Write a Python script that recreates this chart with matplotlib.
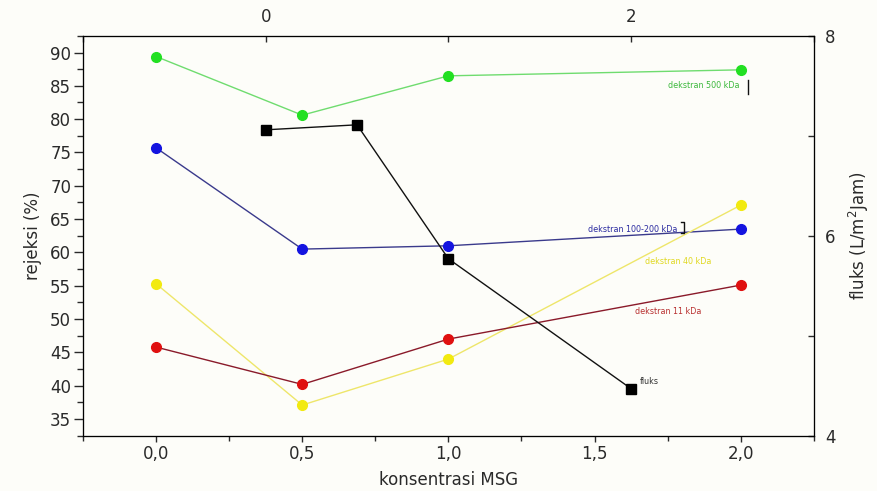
import matplotlib
matplotlib.use("Agg")
import matplotlib.pyplot as plt
from matplotlib.ticker import MultipleLocator, FixedLocator, FuncFormatter

plt.rcParams['font.family'] = ['DejaVu Sans']

msg = [0.0, 0.5, 1.0, 2.0]
rej_500 = [89.4, 80.6, 86.5, 87.4]
rej_100_200 = [75.7, 60.5, 61.0, 63.5]
rej_40 = [55.3, 37.1, 44.0, 67.1]
rej_11 = [45.8, 40.2, 47.0, 55.1]
flux_x = [0.0, 0.5, 1.0, 2.0]
fluks = [7.06, 7.11, 5.77, 4.47]

fig = plt.figure(figsize=(8.77, 4.91), dpi=100)
bg = '#fdfdf9'
fig.patch.set_facecolor(bg)
pos = [0.0946, 0.1126, 0.928 - 0.0946, 0.927 - 0.1126]
ax = fig.add_axes(pos)
ax.set_facecolor(bg)
tc = '#2a2a2a'
fsz = 12

series = [
    (rej_500, '#6fdc6f', '#22e022'),
    (rej_100_200, '#3a3a8c', '#1414e0'),
    (rej_40, '#eee66a', '#f2ea10'),
    (rej_11, '#8a1a2a', '#e01010'),
]
for vals, lc, mc in series:
    ax.plot(msg, vals, '-', color=lc, lw=1.0, zorder=2)
    ax.plot(msg, vals, 'o', color=mc, ms=7, mec=mc, zorder=3)

ax.set_xlim(-0.25, 2.25)
ax.set_ylim(32.5, 92.5)
ax.xaxis.set_major_locator(FixedLocator([0.0, 0.5, 1.0, 1.5, 2.0]))
ax.xaxis.set_minor_locator(FixedLocator([-0.25, 0.25, 0.75, 1.25, 1.75, 2.25]))
ax.xaxis.set_major_formatter(FuncFormatter(lambda v, p: f"{v:.1f}".replace('.', ',')))
ax.yaxis.set_major_locator(MultipleLocator(5))
ax.yaxis.set_minor_locator(MultipleLocator(2.5))
ax.tick_params(axis='y', which='major', direction='out', length=6.5, width=1, labelsize=fsz, colors=tc, pad=2)
ax.tick_params(axis='y', which='minor', direction='out', length=4.5, width=1, colors=tc)
ax.tick_params(axis='x', which='major', direction='out', length=4.5, width=1, labelsize=fsz, colors=tc, pad=2)
ax.tick_params(axis='x', which='minor', direction='out', length=3.5, width=1, colors=tc)
ax.set_xlabel('konsentrasi MSG', fontsize=fsz, color=tc, labelpad=6)
ax.set_ylabel('rejeksi (%)', fontsize=fsz, color=tc, labelpad=6)
for s in ax.spines.values():
    s.set_color('#333333')

ax2 = ax.twinx()
ax3 = ax2.twiny()
ax3.plot(flux_x, fluks, '-', color='#111111', lw=1.0, zorder=2)
ax3.plot(flux_x, fluks, 's', color='#000000', ms=7, zorder=3)
ax2.set_ylim(4, 8)
ax3.set_xlim(-1, 3)
ax2.yaxis.set_major_locator(MultipleLocator(2))
ax2.yaxis.set_minor_locator(MultipleLocator(1))
ax3.xaxis.set_major_locator(MultipleLocator(2))
ax3.xaxis.set_minor_locator(MultipleLocator(1))
ax2.tick_params(axis='y', which='both', direction='in', length=4, width=1, labelsize=fsz, colors=tc, pad=8)
ax3.tick_params(axis='x', which='both', direction='in', length=4, width=1, labelsize=fsz, colors=tc, pad=7)
ax2.set_ylabel('fluks (L/m$^2$Jam)', fontsize=fsz, color=tc, labelpad=8)

# small annotations
fs = 5.8
ax.text(1.995, 85.0, 'dekstran 500 kDa', color='#3cb83c', fontsize=fs, ha='right', va='center')
ax.text(1.784, 63.5, 'dekstran 100-200 kDa', color='#2a2aa0', fontsize=fs, ha='right', va='center')
ax.text(1.90, 58.6, 'dekstran 40 kDa', color='#e0d820', fontsize=fs, ha='right', va='center')
ax.text(1.866, 51.1, 'dekstran 11 kDa', color='#b83030', fontsize=fs, ha='right', va='center')
ax3.text(2.05, 4.54, 'fluks', color='#333333', fontsize=fs, ha='left', va='center')
ax.plot([2.025, 2.025], [83.8, 85.9], color='#111111', lw=1.0)
ax.plot([1.795, 1.805, 1.805, 1.795], [64.6, 64.6, 62.9, 62.9], color='#111111', lw=1.0)

fig.savefig('out.png', dpi=100, facecolor=bg)
